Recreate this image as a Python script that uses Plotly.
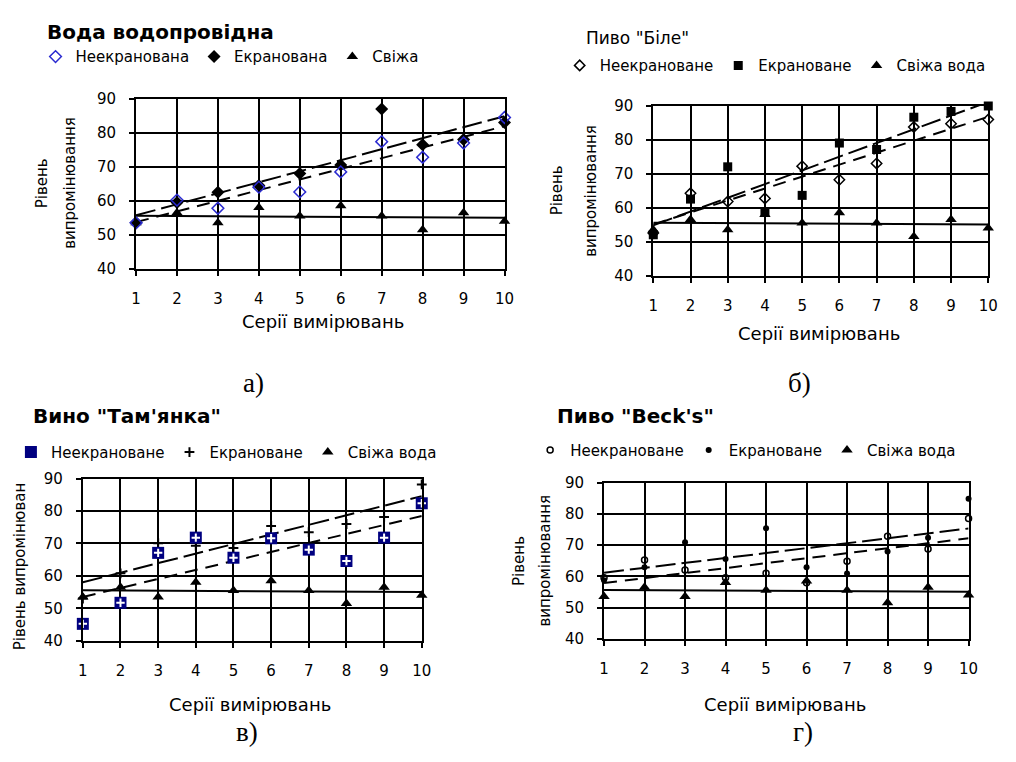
import numpy as np
import plotly.graph_objects as go

W, H = 1016, 762

# ---------------- data ----------------
series_x = list(range(1, 11))
y_ticks = [40, 50, 60, 70, 80, 90]

fresh_water = [53.5, 56.5, 53.5, 58.0, 55.5, 58.5, 55.5, 51.5, 56.5, 54.0]

a_unscreened = [53.5, 60.2, 57.8, 64.0, 62.6, 68.5, 77.4, 72.8, 77.0, 84.5]
a_screened = [53.5, 59.5, 62.5, 64.5, 68.0, 70.5, 87.0, 76.5, 78.0, 83.0]

b_unscreened = [52.5, 64.2, 61.8, 62.7, 72.2, 68.2, 73.0, 83.7, 84.7, 85.9]
b_screened = [52.0, 62.5, 72.0, 58.6, 63.6, 79.0, 77.1, 86.6, 88.3, 89.9]

c_unscreened = [45.2, 51.7, 67.1, 71.8, 65.6, 71.6, 68.1, 64.6, 71.8, 82.4]
c_screened = [53.0, 60.8, 70.1, 69.3, 68.6, 75.4, 73.5, 76.0, 78.2, 88.2]

d_unscreened = [59.5, 65.2, 62.0, 59.5, 61.0, 57.9, 64.8, 72.8, 68.7, 78.5]
d_screened = [58.7, 62.9, 70.9, 65.5, 75.4, 62.9, 60.9, 67.9, 72.3, 84.8]

titles = ['<b>Вода водопровідна</b>', 'Пиво "Біле"', '<b>Вино "Там\'янка"</b>', '<b>Пиво "Beck\'s"</b>']
names_a = ['Неекранована', 'Екранована', 'Свіжа']
names_other = ['Неекрановане', 'Екрановане', 'Свіжа вода']
x_title = 'Серії вимірювань'
captions = ['а)', 'б)', 'в)', 'г)']

FONT = 'DejaVu Sans'

# ---------------- layout helpers ----------------
def px(x):
    return x / W

def py(y):
    return 1 - y / H

# plot-area pixel boxes: (left, right, top, bottom)
boxes = [(133, 507, 92, 266), (658, 998, 99, 273), (79, 423, 481, 647), (608, 978, 485, 645)]

fig = go.Figure()

def add_panel(i, legend, unscr, scr, names, m_unscr, m_scr, overlay=None):
    xref = 'x' if i == 0 else f'x{i+1}'
    yref = 'y' if i == 0 else f'y{i+1}'
    # linear trend lines fitted to each series
    xs = np.array(series_x, dtype=float)
    ends = np.array([1.0, 10.0])
    for vals, dash in [(scr, '20px,6px'), (unscr, '13px,8px'), (fresh_water, 'solid')]:
        k, b = np.polyfit(xs, np.array(vals), 1)
        fig.add_trace(go.Scatter(x=ends, y=k * ends + b, mode='lines',
                                 line=dict(color='black', width=2, dash=dash),
                                 showlegend=False, hoverinfo='skip',
                                 xaxis=xref, yaxis=yref))
    fig.add_trace(go.Scatter(x=series_x, y=fresh_water, mode='markers', name=names[2],
                             marker=dict(symbol='triangle-up', color='black', size=10),
                             cliponaxis=False, legend=legend, legendrank=3,
                             xaxis=xref, yaxis=yref))
    fig.add_trace(go.Scatter(x=series_x, y=scr, mode='markers', name=names[1],
                             marker=m_scr, cliponaxis=False, legend=legend, legendrank=2,
                             xaxis=xref, yaxis=yref))
    fig.add_trace(go.Scatter(x=series_x, y=unscr, mode='markers', name=names[0],
                             marker=m_unscr, cliponaxis=False, legend=legend, legendrank=1,
                             xaxis=xref, yaxis=yref))
    if overlay is not None:
        fig.add_trace(go.Scatter(x=series_x, y=unscr, mode='markers', marker=overlay,
                                 cliponaxis=False, showlegend=False, hoverinfo='skip',
                                 xaxis=xref, yaxis=yref))

add_panel(0, 'legend', a_unscreened, a_screened, names_a,
          dict(symbol='diamond-open', color='#2a2ad0', size=9, line=dict(width=1.5)),
          dict(symbol='diamond', color='black', size=10))
add_panel(1, 'legend2', b_unscreened, b_screened, names_other,
          dict(symbol='diamond-open', color='black', size=8, line=dict(width=1.5)),
          dict(symbol='square', color='black', size=9))
add_panel(2, 'legend3', c_unscreened, c_screened, names_other,
          dict(symbol='square', color='#000080', size=12),
          dict(symbol='cross-thin', color='black', size=7, line=dict(width=2, color='black')),
          overlay=dict(symbol='cross-thin', color='white', size=6, line=dict(width=2, color='white')))
add_panel(3, 'legend4', d_unscreened, d_screened, names_other,
          dict(symbol='circle-open', color='black', size=6, line=dict(width=1.5)),
          dict(symbol='circle', color='black', size=6))

axis_common = dict(showgrid=True, gridcolor='black', gridwidth=2, zeroline=False,
                   showline=True, linecolor='black', linewidth=2, mirror=True,
                   ticks='outside', ticklen=5, tickwidth=2, tickcolor='black',
                   tickfont=dict(family=FONT, size=15, color='black'), fixedrange=True)

layout = dict(width=W, height=H, margin=dict(l=0, r=0, t=0, b=0),
              paper_bgcolor='white', plot_bgcolor='white', showlegend=True)

for i, (l, r, t, b) in enumerate(boxes):
    sx = '' if i == 0 else str(i + 1)
    layout['xaxis' + sx] = dict(axis_common, domain=[px(l), px(r)], range=[1, 10],
                                tickvals=series_x, anchor='y' + sx, ticklabelstandoff=10)
    layout['yaxis' + sx] = dict(axis_common, domain=[py(b), py(t)], range=[40, 90],
                                tickvals=y_ticks, anchor='x' + sx, ticklabelstandoff=10)

leg_common = dict(orientation='h', xanchor='left', yanchor='middle', itemwidth=30,
                  bgcolor='rgba(0,0,0,0)', font=dict(family=FONT, size=15, color='black'),
                  traceorder='normal', itemclick=False, itemdoubleclick=False)
leg_pos = [(31, 49), (563, 58), (6, 454), (533, 452)]
for i, (lx, ly) in enumerate(leg_pos):
    key = 'legend' if i == 0 else f'legend{i+1}'
    layout[key] = dict(leg_common, x=px(lx), y=py(ly))

fig.update_layout(**layout)

ann = []
# panel titles
title_pos = [(41, 24, 20), (588, 30, 17), (26, 417, 20), (558, 417, 20)]
for txt, (x, y, s) in zip(titles, title_pos):
    ann.append(dict(text=txt, x=px(x), y=py(y), xanchor='left', yanchor='middle',
                    font=dict(family=FONT, size=s, color='black')))
# y axis titles
ytitle = [
    ('Рівень', 37, 178), ('випромінювання', 66, 178),
    ('Рівень', 560, 186), ('випромінювання', 594, 186),
    ('Рівень випромінюван', 15, 571),
    ('Рівень', 521, 565), ('випромінювання', 548, 565),
]
for txt, x, y in ytitle:
    ann.append(dict(text=txt, x=px(x), y=py(y), xanchor='center', yanchor='middle',
                    textangle=-90, font=dict(family=FONT, size=15, color='black')))
# x axis titles
for x, y in [(323, 320), (826, 332), (249, 712), (792, 712)]:
    ann.append(dict(text=x_title, x=px(x), y=py(y), xanchor='center', yanchor='middle',
                    font=dict(family=FONT, size=18, color='black')))
# captions
for txt, (x, y) in zip(captions, [(252, 383), (806, 383), (246, 740), (810, 740)]):
    ann.append(dict(text=txt, x=px(x), y=py(y), xanchor='center', yanchor='middle',
                    font=dict(family='Liberation Serif', size=27, color='black')))
for a in ann:
    a.update(xref='paper', yref='paper', showarrow=False)
fig.update_layout(annotations=ann)

fig.write_html('out.html')
